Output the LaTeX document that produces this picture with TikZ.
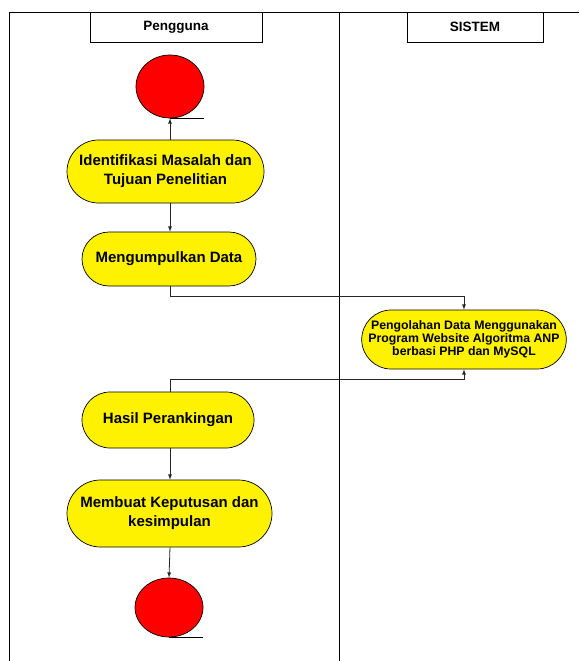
\documentclass[tikz,border=0pt]{standalone}
\usepackage{fontspec}
\setmainfont{Liberation Sans}
\usetikzlibrary{positioning, arrows, shapes.misc, shapes.geometric}

\tikzset{
    lane/.style={draw, fill=white, minimum width=172pt, minimum height=30pt, inner sep=0pt, font=\bfseries\fontsize{13.5}{16}\selectfont},
    activity/.style={draw, fill=yellow, rounded rectangle, inner sep=0pt, align=center, font=\bfseries\fontsize{15}{19}\selectfont},
    terminal/.style={draw, fill=red, ellipse, minimum width=68pt, minimum height=63pt, inner sep=0pt},
    flow/.style={draw=black!85, line width=0.8pt, -latex},
}

\begin{document}
\begin{tikzpicture}[x=1pt, y=-1pt, line width=0.7pt]
    \useasboundingbox (0,0) rectangle (579,661);
    % swimlanes
    \draw (9,661) -- (9,12) -- (579,12);
    \draw (339,12) -- (339,661);
    \node[lane] (pengguna) at (176,27) {Pengguna};
    \node[lane, minimum width=136pt] (sistem) at (475,27) {SISTEM};

    % activities
    \node[terminal] (start) at (170,86.5) {};
    \node[activity, minimum width=197pt, minimum height=63pt] (identifikasi) at (165.5,171.5) {Identifikasi Masalah dan\\Tujuan Penelitian};
    \node[activity, minimum width=174pt, minimum height=54pt] (kumpul) at (169,259) {Mengumpulkan Data};
    \node[activity, minimum width=204pt, minimum height=59pt, font=\bfseries\fontsize{12.3}{13}\selectfont] (olah) at (464,339.5) {Pengolahan Data Menggunakan\\Program Website Algoritma ANP\\berbasi PHP dan MySQL};
    \node[activity, minimum width=172pt, minimum height=56pt] (hasil) at (168,420) {Hasil Perankingan};
    \node[activity, minimum width=205pt, minimum height=67pt] (keputusan) at (169.5,513.5) {Membuat Keputusan dan\\kesimpulan};
    \node[terminal, minimum height=59pt] (stop) at (169,607.5) {};

    % underlines of the terminals
    \draw (start.south) -- ++(34,0);
    \draw (stop.south) -- ++(34,0);

    % connectors
    \draw[flow] (identifikasi.north -| start) -- (start.south);
    \draw[flow] (identifikasi.south -| start) -- (kumpul.north -| start);
    \draw[flow] (kumpul.south -| start) -- ++(0,10) -| (olah.north);
    \draw[flow] (hasil.north -| start) -- ++(0,-12) -| (olah.south);
    \draw[flow] (hasil.south -| start) -- (keputusan.north -| start);
    \draw[flow] (keputusan.south -| start) -- (stop.north);
\end{tikzpicture}
\end{document}
